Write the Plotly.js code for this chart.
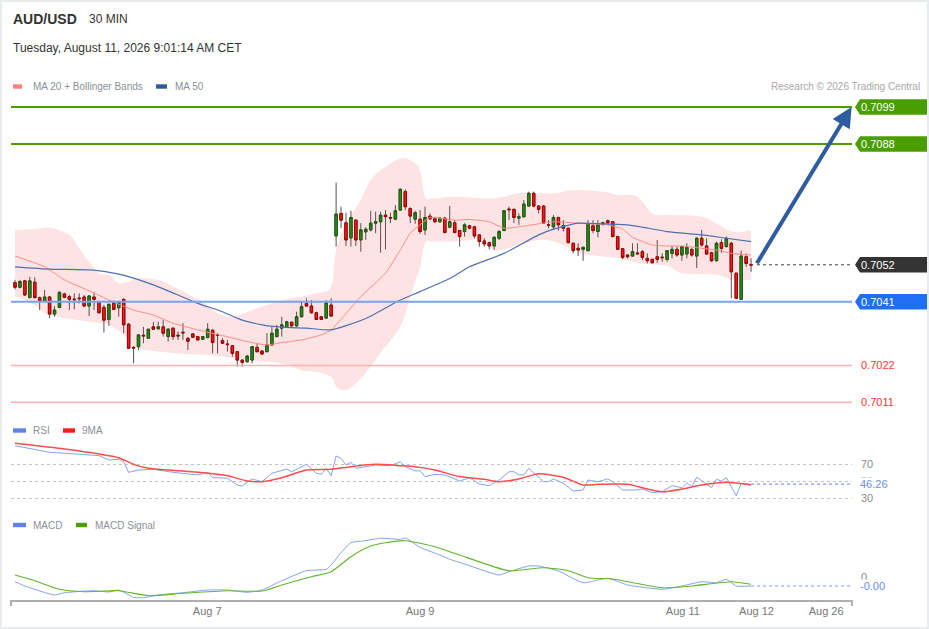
<!DOCTYPE html>
<html>
<head>
<meta charset="utf-8">
<script src="https://cdn.plot.ly/plotly-3.0.1.min.js"></script>
<style>
  html, body { margin: 0; padding: 0; background: #fff; }
  #wrap { position: relative; width: 929px; height: 629px; }
  #chart { position: absolute; left: 0; top: 0; width: 929px; height: 629px; }
  #frame { position: absolute; left: 0; top: 0; width: 929px; height: 629px; box-sizing: border-box;
           border: 2px solid #e7ecef; pointer-events: none; }
</style>
</head>
<body>
<div id="wrap"><div id="chart"></div><div id="frame"></div></div>
<script>
// ---------------- DATA ----------------
const symbol = 'AUD/USD';
const period = '30 MIN';
const stamp = 'Tuesday, August 11, 2026 9:01:14 AM CET';

const openP = [0.70467,0.70453,0.70472,0.70422,0.70468,0.70422,0.70412,0.70424,0.70373,0.70393,
0.70433,0.70425,0.70418,0.70421,0.70424,0.70397,0.70424,0.70410,0.70393,0.70357,
0.70407,0.70392,0.70417,0.70343,0.70274,0.70276,0.70310,0.70301,0.70335,0.70329,
0.70335,0.70306,0.70331,0.70310,0.70319,0.70301,0.70314,0.70306,0.70298,0.70303,
0.70325,0.70312,0.70294,0.70284,0.70279,0.70261,0.70236,0.70231,0.70236,0.70274,
0.70263,0.70261,0.70281,0.70306,0.70331,0.70334,0.70349,0.70338,0.70365,0.70405,
0.70397,0.70377,0.70365,0.70361,0.70400,0.70606,0.70673,0.70645,0.70600,0.70653,
0.70594,0.70618,0.70624,0.70644,0.70648,0.70668,0.70661,0.70656,0.70683,0.70738,
0.70688,0.70656,0.70656,0.70624,0.70665,0.70657,0.70648,0.70659,0.70632,0.70645,
0.70622,0.70619,0.70636,0.70633,0.70609,0.70591,0.70586,0.70576,0.70599,0.70622,
0.70686,0.70685,0.70659,0.70663,0.70695,0.70733,0.70695,0.70695,0.70639,0.70633,
0.70661,0.70636,0.70629,0.70584,0.70569,0.70566,0.70562,0.70636,0.70619,0.70642,
0.70651,0.70648,0.70604,0.70568,0.70549,0.70546,0.70555,0.70559,0.70539,0.70536,
0.70544,0.70543,0.70536,0.70554,0.70566,0.70549,0.70552,0.70566,0.70546,0.70599,
0.70576,0.70556,0.70532,0.70586,0.70574,0.70584,0.70495,0.70417,0.70544,0.70521];
const highP = [0.70475,0.70475,0.70475,0.70484,0.70483,0.70425,0.70445,0.70427,0.70397,0.70440,
0.70437,0.70430,0.70435,0.70435,0.70430,0.70430,0.70437,0.70413,0.70400,0.70405,
0.70413,0.70413,0.70419,0.70346,0.70278,0.70313,0.70335,0.70329,0.70350,0.70350,
0.70355,0.70331,0.70334,0.70321,0.70346,0.70304,0.70316,0.70308,0.70308,0.70346,
0.70328,0.70316,0.70301,0.70296,0.70281,0.70263,0.70238,0.70251,0.70278,0.70286,
0.70266,0.70316,0.70335,0.70341,0.70365,0.70353,0.70350,0.70380,0.70410,0.70420,
0.70415,0.70380,0.70367,0.70415,0.70420,0.70765,0.70693,0.70675,0.70681,0.70655,
0.70644,0.70632,0.70681,0.70678,0.70678,0.70683,0.70675,0.70698,0.70747,0.70745,
0.70690,0.70681,0.70683,0.70693,0.70673,0.70663,0.70661,0.70663,0.70695,0.70653,
0.70624,0.70644,0.70639,0.70636,0.70611,0.70599,0.70589,0.70604,0.70624,0.70683,
0.70693,0.70688,0.70673,0.70713,0.70738,0.70738,0.70697,0.70698,0.70653,0.70668,
0.70663,0.70653,0.70630,0.70586,0.70584,0.70574,0.70653,0.70653,0.70653,0.70648,
0.70655,0.70650,0.70606,0.70570,0.70551,0.70584,0.70584,0.70564,0.70554,0.70539,
0.70594,0.70554,0.70564,0.70576,0.70574,0.70576,0.70584,0.70569,0.70602,0.70624,
0.70599,0.70559,0.70589,0.70596,0.70604,0.70589,0.70496,0.70562,0.70554,0.70539];
const lowP = [0.70447,0.70450,0.70427,0.70420,0.70420,0.70385,0.70410,0.70361,0.70365,0.70390,
0.70420,0.70385,0.70387,0.70405,0.70395,0.70367,0.70385,0.70375,0.70318,0.70338,
0.70385,0.70365,0.70316,0.70269,0.70226,0.70266,0.70286,0.70299,0.70326,0.70328,
0.70306,0.70291,0.70296,0.70296,0.70296,0.70266,0.70302,0.70294,0.70296,0.70301,
0.70256,0.70256,0.70284,0.70261,0.70246,0.70216,0.70216,0.70229,0.70226,0.70259,
0.70252,0.70259,0.70279,0.70304,0.70306,0.70332,0.70335,0.70335,0.70363,0.70395,
0.70375,0.70355,0.70355,0.70359,0.70365,0.70574,0.70629,0.70576,0.70574,0.70576,
0.70559,0.70594,0.70619,0.70614,0.70556,0.70566,0.70644,0.70653,0.70681,0.70683,
0.70644,0.70642,0.70612,0.70609,0.70653,0.70645,0.70645,0.70614,0.70629,0.70614,
0.70574,0.70604,0.70626,0.70599,0.70574,0.70574,0.70566,0.70564,0.70594,0.70620,
0.70653,0.70644,0.70639,0.70661,0.70693,0.70691,0.70673,0.70642,0.70629,0.70624,
0.70622,0.70619,0.70584,0.70554,0.70546,0.70532,0.70560,0.70614,0.70602,0.70636,
0.70642,0.70602,0.70564,0.70536,0.70539,0.70544,0.70549,0.70534,0.70524,0.70524,
0.70526,0.70529,0.70529,0.70539,0.70544,0.70532,0.70539,0.70544,0.70510,0.70574,
0.70549,0.70529,0.70530,0.70556,0.70572,0.70420,0.70418,0.70416,0.70514,0.70499];
const closeP = [0.70453,0.70470,0.70430,0.70472,0.70422,0.70412,0.70424,0.70373,0.70385,0.70438,
0.70423,0.70417,0.70416,0.70419,0.70397,0.70427,0.70417,0.70377,0.70355,0.70402,
0.70387,0.70410,0.70341,0.70271,0.70272,0.70311,0.70308,0.70328,0.70328,0.70335,
0.70316,0.70328,0.70306,0.70308,0.70317,0.70292,0.70304,0.70296,0.70306,0.70328,
0.70288,0.70310,0.70286,0.70282,0.70256,0.70236,0.70229,0.70248,0.70276,0.70261,
0.70254,0.70281,0.70316,0.70328,0.70341,0.70350,0.70338,0.70365,0.70395,0.70397,
0.70377,0.70357,0.70357,0.70407,0.70367,0.70671,0.70653,0.70594,0.70661,0.70594,
0.70624,0.70626,0.70644,0.70648,0.70668,0.70663,0.70659,0.70681,0.70745,0.70693,
0.70665,0.70675,0.70619,0.70661,0.70657,0.70648,0.70659,0.70616,0.70648,0.70616,
0.70604,0.70639,0.70629,0.70606,0.70589,0.70582,0.70576,0.70602,0.70619,0.70681,
0.70684,0.70661,0.70663,0.70701,0.70733,0.70695,0.70685,0.70644,0.70638,0.70661,
0.70639,0.70629,0.70586,0.70562,0.70564,0.70572,0.70642,0.70622,0.70639,0.70645,
0.70645,0.70604,0.70566,0.70542,0.70544,0.70559,0.70553,0.70542,0.70532,0.70526,
0.70536,0.70541,0.70562,0.70566,0.70549,0.70574,0.70572,0.70549,0.70599,0.70579,
0.70552,0.70532,0.70584,0.70569,0.70599,0.70499,0.70420,0.70546,0.70524,0.70519];

// MA 20 (sampled by candle index)
const ma20Idx = [0,6,10,16,19,24,28,32,37,42,47,51,54,58,62,64,70,75,78,80,82,84,89,92,96,99,102,106,109,113,116,120,123,125,129,132,135,139,142,145,149];
const ma20Val = [0.70546,0.70514,0.70475,0.70436,0.70415,0.70385,0.70370,0.70346,0.70326,0.70309,0.70291,0.70281,0.70288,0.70296,0.70311,0.70326,0.70425,0.70495,0.70564,0.70614,0.70639,0.70661,0.70653,0.70655,0.70648,0.70629,0.70633,0.70642,0.70648,0.70645,0.70642,0.70639,0.70626,0.70602,0.70579,0.70576,0.70576,0.70569,0.70564,0.70554,0.70549];
// MA 50
const ma50Idx = [0,7,16,21,24,28,33,37,42,46,50,54,59,64,71,78,82,88,92,99,106,109,114,119,124,127,132,139,144,149];
const ma50Val = [0.70514,0.70507,0.70504,0.70492,0.70480,0.70460,0.70430,0.70405,0.70380,0.70355,0.70341,0.70334,0.70331,0.70326,0.70360,0.70415,0.70440,0.70479,0.70514,0.70554,0.70609,0.70626,0.70644,0.70642,0.70639,0.70632,0.70619,0.70609,0.70599,0.70589];
// Bollinger bands
const bbUpIdx = [0,4,7,11,13,15,17,19,21,23,25,29,32,36,39,41,44,48,52,56,58,61,64,65,67,70,72,75,78,80,82,83,85,89,97,102,109,113,119,122,126,129,132,139,145,149];
const bbUpVal = [0.70624,0.70626,0.70630,0.70609,0.70569,0.70529,0.70495,0.70490,0.70465,0.70470,0.70480,0.70475,0.70455,0.70425,0.70400,0.70375,0.70365,0.70385,0.70405,0.70420,0.70425,0.70435,0.70455,0.70564,0.70644,0.70713,0.70773,0.70812,0.70837,0.70832,0.70802,0.70723,0.70718,0.70723,0.70718,0.70733,0.70733,0.70743,0.70738,0.70728,0.70723,0.70673,0.70668,0.70663,0.70619,0.70622];
const bbLoIdx = [0,4,7,15,19,22,25,32,39,48,54,58,61,64,65,66,68,71,74,78,80,82,83,85,89,95,97,100,106,110,114,118,122,126,132,135,142,145,149];
const bbLoVal = [0.70427,0.70400,0.70370,0.70350,0.70341,0.70311,0.70272,0.70257,0.70251,0.70236,0.70226,0.70206,0.70201,0.70186,0.70157,0.70147,0.70153,0.70198,0.70257,0.70335,0.70425,0.70514,0.70585,0.70589,0.70589,0.70594,0.70564,0.70570,0.70594,0.70585,0.70558,0.70546,0.70540,0.70525,0.70516,0.70495,0.70490,0.70475,0.70475];

// RSI and its 9 MA
const rsiIdx = [0,4,7,10,14,17,19,21,22,23,25,28,32,35,37,39,40,43,45,46,48,50,52,55,56,59,61,62,63,64,65,66,67,68,69,71,73,76,78,79,81,82,83,85,87,89,90,92,94,96,98,100,101,102,103,104,107,108,109,111,113,115,116,118,120,121,123,126,127,129,131,133,135,136,137,138,141,142,143,144,145,146,147,149];
const rsiVal = [91.5,87.3,83.8,82.6,80.6,79.8,74.7,75.5,72.7,60.2,62.9,63.8,60.2,57.9,57.1,60.2,53.9,53.2,45.3,44.1,52.4,49.2,59.1,64.1,60.9,69.6,59.1,57.9,64.9,56.2,79.4,76.7,68.8,72.0,64.9,66.8,68.8,68.0,72.7,66.8,61.8,62.1,55.1,57.9,57.1,52.4,50.0,53.9,46.5,44.5,51.2,60.9,60.9,57.1,57.1,64.9,49.2,49.2,52.4,47.3,38.2,39.4,51.2,49.2,52.4,49.2,39.4,39.4,40.6,36.2,37.4,44.5,42.1,48.0,43.3,54.4,42.1,52.0,50.0,53.9,43.3,32.7,47.3,46.26];
const rsiMaIdx = [0,10,17,21,24,27,31,37,43,47,50,54,59,64,68,73,78,81,85,90,95,98,102,106,111,115,118,124,128,131,135,139,144,149];
const rsiMaVal = [94.3,87.6,81.8,77.4,69.6,64.9,62.9,60.2,56.2,50.0,49.2,53.9,62.9,63.8,66.8,69.6,68.0,66.8,62.9,55.3,52.0,49.2,52.4,58.6,54.4,45.3,46.1,46.1,40.6,37.4,40.6,45.3,48.5,45.3];
const rsiLevels = [30, 50, 70];

// MACD and signal
const macdIdx = [0,2,8,10,16,19,21,24,26,29,34,39,43,47,50,54,59,63,64,66,68,71,74,78,79,82,86,88,91,98,100,104,106,110,115,120,124,131,135,139,142,144,146,149];
const macdVal = [-0.000145,-0.000277,-0.000554,-0.000483,-0.000422,-0.000462,-0.000400,-0.000625,-0.000637,-0.000554,-0.000483,-0.000400,-0.000400,-0.000471,-0.000400,-0.000114,0.000194,0.000237,0.000369,0.000748,0.001055,0.001117,0.001191,0.001160,0.001200,0.000914,0.000677,0.000545,0.000400,0.000062,0.000163,0.000338,0.000338,0.000185,-0.000175,-0.000040,-0.000246,-0.000378,-0.000277,-0.000145,-0.000175,-0.000071,-0.000277,-0.000277];
const sigIdx = [0,4,9,14,21,27,34,43,50,54,60,64,68,72,75,79,85,88,90,100,107,112,116,121,131,137,145,149];
const sigVal = [0.000062,-0.000114,-0.000378,-0.000452,-0.000422,-0.000575,-0.000502,-0.000422,-0.000431,-0.000246,0.000009,0.000163,0.000625,0.000954,0.001055,0.001117,0.000932,0.000778,0.000677,0.000194,0.000286,0.000194,-0.000022,-0.000062,-0.000329,-0.000277,-0.000145,-0.000225];

// key levels
const resistance = [0.7099, 0.7088];
const lastPrice = 0.7052;
const pivot = 0.7041;
const support = [0.7022, 0.7011];
const target = 0.7099;

// x-axis tick labels (and their positions on the candle-index axis)
const tickLabels = ['Aug 7', 'Aug 9', 'Aug 11', 'Aug 12', 'Aug 26'];
const tickPos = [38.9, 82.0, 135.2, 150.1, 164.2];

// ---------------- BUILD ----------------
const N = openP.length;
const xIdx = openP.map((_, i) => i);
const bodyHi = openP.map((o, i) => Math.max(o, closeP[i]));
const bodyLo = openP.map((o, i) => Math.min(o, closeP[i]));

const W = 929, H = 629;
const M = {l: 11, r: 77, t: 0, b: 29};
const plotW = W - M.l - M.r, plotH = H - M.t - M.b;
const px = v => (v - M.l) / plotW;           // pixel x -> paper x
const py = v => (plotH + M.t - v) / plotH;    // pixel y -> paper y

const xRange = [-0.81, 169.43];
const priceRange = [0.700723, 0.710259];
const rsiRange = [15.88, 98.24];
const macdRange = [-0.0007077, 0.001446];

const FONT = 'Liberation Sans, Arial, Helvetica, sans-serif';

// smooth closed path (Catmull-Rom -> cubic Bezier) through data points, in data coordinates
function smoothSeg(xs, ys, start) {
  let d = start ? `M ${xs[0]},${ys[0]}` : ` L ${xs[0]},${ys[0]}`;
  for (let i = 0; i < xs.length - 1; i++) {
    const x0 = xs[Math.max(i - 1, 0)], y0 = ys[Math.max(i - 1, 0)];
    const x1 = xs[i], y1 = ys[i], x2 = xs[i + 1], y2 = ys[i + 1];
    const x3 = xs[Math.min(i + 2, xs.length - 1)], y3 = ys[Math.min(i + 2, xs.length - 1)];
    const t = 0.16;
    d += ` C ${x1 + (x2 - x0) * t},${y1 + (y2 - y0) * t} ${x2 - (x3 - x1) * t},${y2 - (y3 - y1) * t} ${x2},${y2}`;
  }
  return d;
}
const bandPath = smoothSeg(bbUpIdx, bbUpVal, true) +
                 smoothSeg(bbLoIdx.slice().reverse(), bbLoVal.slice().reverse(), false) + ' Z';

const traces = [
  {x: ma20Idx, y: ma20Val, type: 'scatter', mode: 'lines', line: {width: 1, color: '#ff8a8a', shape: 'spline', smoothing: 0.5}, xaxis: 'x', yaxis: 'y'},
  {x: ma50Idx, y: ma50Val, type: 'scatter', mode: 'lines', line: {width: 1.2, color: '#4d70b2', shape: 'spline', smoothing: 0.5}, xaxis: 'x', yaxis: 'y'},
  {type: 'candlestick', x: xIdx, open: openP, high: highP, low: lowP, close: closeP,
   increasing: {line: {color: '#5e5050', width: 1}, fillcolor: '#5e5050'},
   decreasing: {line: {color: '#5e5050', width: 1}, fillcolor: '#5e5050'},
   whiskerwidth: 0, xaxis: 'x', yaxis: 'y', hoverinfo: 'skip'},
  {type: 'candlestick', x: xIdx, open: openP, high: bodyHi, low: bodyLo, close: closeP,
   increasing: {line: {color: '#1d5c10', width: 1}, fillcolor: '#2b8a1b'},
   decreasing: {line: {color: '#a80000', width: 1}, fillcolor: '#ee1c1c'},
   whiskerwidth: 0, xaxis: 'x', yaxis: 'y', hoverinfo: 'skip'},
  {x: rsiIdx, y: rsiVal, type: 'scatter', mode: 'lines', line: {width: 1, color: '#86a3ef'}, xaxis: 'x', yaxis: 'y2'},
  {x: rsiMaIdx, y: rsiMaVal, type: 'scatter', mode: 'lines', line: {width: 1.5, color: '#ff4d4d', shape: 'spline', smoothing: 0.6}, xaxis: 'x', yaxis: 'y2'},
  {x: macdIdx, y: macdVal, type: 'scatter', mode: 'lines', line: {width: 1, color: '#86a3ef', shape: 'spline', smoothing: 0.5}, xaxis: 'x', yaxis: 'y3'},
  {x: sigIdx, y: sigVal, type: 'scatter', mode: 'lines', line: {width: 1.1, color: '#62b531', shape: 'spline', smoothing: 0.6}, xaxis: 'x', yaxis: 'y3'}
];

const shapes = [];
const annotations = [];
// Bollinger band as a filled shape below the candles
shapes.push({type: 'path', xref: 'x', yref: 'y', layer: 'below', path: bandPath, fillcolor: '#fde3e3', line: {width: 0}});

const pxPerPrice = plotH * (py(95) - py(415)) / (priceRange[1] - priceRange[0]);
const boxH = 7.8 / pxPerPrice;
const tipX = px(855), boxL = px(860), boxR = px(929);
const lblX = px(859);

function hline(y, color, width, dash) {
  shapes.push({type: 'line', xref: 'paper', yref: 'y', x0: 0, x1: 1, y0: y, y1: y,
               line: {color: color, width: width, dash: dash || 'solid'}, layer: 'above'});
}
function tag(y, fill, txt) {
  shapes.push({type: 'path', xref: 'paper', yref: 'y', layer: 'above', fillcolor: fill, line: {width: 0},
    path: `M ${tipX},${y} L ${boxL},${y + boxH} L ${boxR},${y + boxH} L ${boxR},${y - boxH} L ${boxL},${y - boxH} Z`});
  annotations.push({xref: 'paper', yref: 'y', x: lblX, y: y, xanchor: 'left', yanchor: 'middle', showarrow: false,
    text: txt, font: {family: FONT, size: 11, color: '#ffffff'}});
}

resistance.forEach(v => { hline(v, '#4a9e00', 2); tag(v, '#4a9e00', v.toFixed(4)); });
hline(pivot, '#77a3f0', 2); tag(pivot, '#1f6ff2', pivot.toFixed(4));
support.forEach(v => {
  hline(v, '#ffb0b0', 1.5);
  annotations.push({xref: 'paper', yref: 'y', x: lblX, y: v, xanchor: 'left', yanchor: 'middle', showarrow: false,
    text: v.toFixed(4), font: {family: FONT, size: 11, color: '#ff3535'}});
});
// last price
shapes.push({type: 'line', xref: 'x', yref: 'y', x0: N + 0.2, x1: xRange[1], y0: lastPrice, y1: lastPrice,
             line: {color: '#444', width: 1, dash: 'dot'}, layer: 'above'});
tag(lastPrice, '#333333', lastPrice.toFixed(4));

// RSI labels & current value
const rsiLast = rsiVal[rsiVal.length - 1];
shapes.push({type: 'line', xref: 'x', yref: 'y2', x0: rsiIdx[rsiIdx.length - 1], x1: xRange[1], y0: rsiLast, y1: rsiLast,
             line: {color: '#7f9cf0', width: 1.2, dash: 'dot'}});
rsiLevels.forEach(v => annotations.push({xref: 'paper', yref: 'y2', x: lblX, y: v, xanchor: 'left', yanchor: 'middle',
  showarrow: false, text: String(v), font: {family: FONT, size: 11, color: '#8a8a8a'}}));
annotations.push({xref: 'paper', yref: 'y2', x: lblX, y: rsiLast, xanchor: 'left', yanchor: 'middle', showarrow: false,
  text: rsiLast.toFixed(2), bgcolor: '#ffffff', borderpad: 0, font: {family: FONT, size: 11, color: '#6d8ee8'}});

// MACD labels & current value
const macdLast = macdVal[macdVal.length - 1];
shapes.push({type: 'line', xref: 'x', yref: 'y3', x0: macdIdx[macdIdx.length - 1], x1: xRange[1], y0: macdLast, y1: macdLast,
             line: {color: '#7f9cf0', width: 1.2, dash: 'dot'}});
annotations.push({xref: 'paper', yref: 'y3', x: lblX, y: 0, xanchor: 'left', yanchor: 'middle', showarrow: false,
  text: '0', font: {family: FONT, size: 11, color: '#8a8a8a'}});
annotations.push({xref: 'paper', yref: 'y3', x: lblX, y: macdLast, xanchor: 'left', yanchor: 'middle', showarrow: false,
  text: macdLast.toFixed(2), bgcolor: '#ffffff', borderpad: 0, font: {family: FONT, size: 11, color: '#6d8ee8'}});

// x-axis end ticks
[0, 1].forEach(x => shapes.push({type: 'line', xref: 'paper', yref: 'paper', x0: x, x1: x, y0: 0, y1: -6 / plotH,
  line: {color: '#b0b0b0', width: 2}}));

// header texts
function txt(x, y, s, size, color, bold, anchor) {
  annotations.push({xref: 'paper', yref: 'paper', x: px(x), y: py(y), xanchor: anchor || 'left', yanchor: 'middle',
    showarrow: false, text: bold ? '<b>' + s + '</b>' : s, font: {family: FONT, size: size, color: color}});
}
function swatch(x0, x1, y, color) {
  shapes.push({type: 'rect', xref: 'paper', yref: 'paper', x0: px(x0), x1: px(x1), y0: py(y + 2.2), y1: py(y - 2.2),
    fillcolor: color, line: {width: 0}});
}
txt(11, 19, symbol, 14, '#333', true);
txt(87, 19, period, 12, '#333', false);
txt(11, 48, stamp, 12, '#333', false);
swatch(13, 22, 86.5, '#ff7f7f'); txt(31, 86.5, 'MA 20 + Bollinger Bands', 10, '#8a8f99');
swatch(156, 167, 86.5, '#2f5a9c'); txt(173, 86.5, 'MA 50', 10, '#8a8f99');
txt(922, 86.5, 'Research © 2026 Trading Central', 10, '#a8a8a8', false, 'right');
swatch(13, 26, 430.5, '#5f84e6'); txt(31, 430.5, 'RSI', 10, '#8a8f99');
swatch(63, 75, 430.5, '#ff1a1a'); txt(80, 430.5, '9MA', 10, '#8a8f99');
swatch(13, 26, 525, '#5f84e6'); txt(31, 525, 'MACD', 10, '#8a8f99');
swatch(76, 87, 525, '#4a9e00'); txt(93, 525, 'MACD Signal', 10, '#8a8f99');

// projection arrow
annotations.push({xref: 'x', yref: 'y', x: 169.35, y: target, axref: 'x', ayref: 'y', ax: N, ay: lastPrice,
  showarrow: true, arrowhead: 2, arrowsize: 1, arrowwidth: 4, arrowcolor: '#2d5d9f', standoff: 0, text: ''});

const layout = {
  width: W, height: H, margin: M,
  paper_bgcolor: '#ffffff', plot_bgcolor: '#ffffff',
  showlegend: false, dragmode: false, hovermode: false,
  font: {family: FONT},
  xaxis: {range: xRange, anchor: 'y3', showline: true, linecolor: '#b0b0b0', linewidth: 2, mirror: false,
          tickmode: 'array', tickvals: tickPos, ticktext: tickLabels, ticks: '', showgrid: false, zeroline: false,
          rangeslider: {visible: false}, tickfont: {family: FONT, size: 11, color: '#777'}, fixedrange: true},
  yaxis: {domain: [py(415), py(95)], range: priceRange, visible: false, fixedrange: true},
  yaxis2: {domain: [py(510), py(440)], range: rsiRange, tickmode: 'array', tickvals: rsiLevels, showticklabels: false,
           showgrid: true, gridcolor: '#c4c4c4', griddash: 'dot', gridwidth: 1, zeroline: false, showline: false, fixedrange: true},
  yaxis3: {domain: [0, py(530)], range: macdRange, visible: false, fixedrange: true},
  shapes: shapes,
  annotations: annotations
};

Plotly.newPlot('chart', traces, layout, {staticPlot: true, displayModeBar: false});
</script>
</body>
</html>
